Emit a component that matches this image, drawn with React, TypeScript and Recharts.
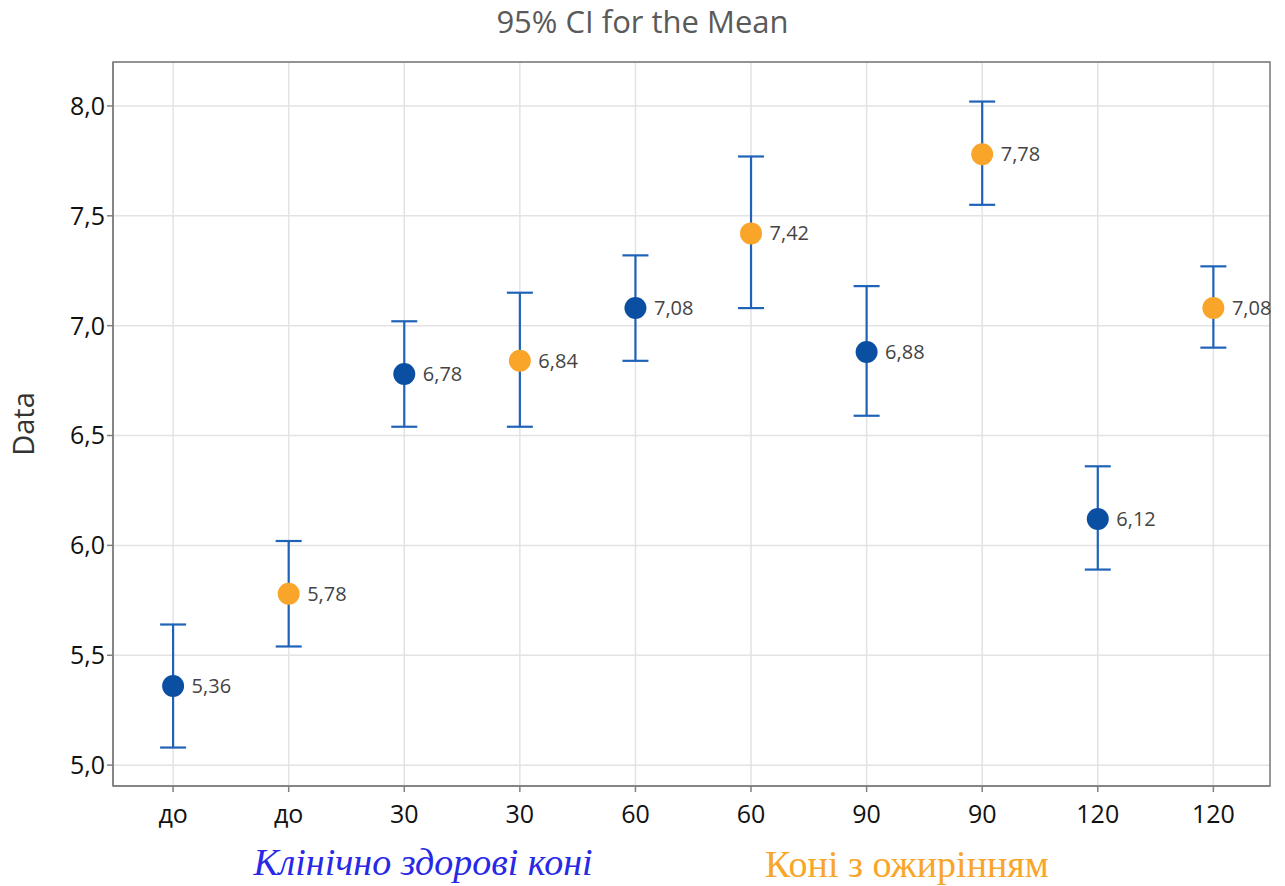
import React from "react";
import {
  ScatterChart,
  Scatter,
  XAxis,
  YAxis,
  CartesianGrid,
  ErrorBar,
  LabelList,
  ReferenceArea,
} from "recharts";

const categories = ["до", "до", "30", "30", "60", "60", "90", "90", "120", "120"];
const means = [5.36, 5.78, 6.78, 6.84, 7.08, 7.42, 6.88, 7.78, 6.12, 7.08];
const lower = [5.08, 5.54, 6.54, 6.54, 6.84, 7.08, 6.59, 7.55, 5.89, 6.9];
const upper = [5.64, 6.02, 7.02, 7.15, 7.32, 7.77, 7.18, 8.02, 6.36, 7.27];
const groups = ["healthy", "obese", "healthy", "obese", "healthy", "obese", "healthy", "obese", "healthy", "obese"];
const yTicks = [5.0, 5.5, 6.0, 6.5, 7.0, 7.5, 8.0];

const X_DOMAIN: [number, number] = [-0.52, 9.49];
const Y_DOMAIN: [number, number] = [4.905, 8.2];

const BLUE = "#0b4fa3";
const ORANGE = "#f9a52a";
const BAR = "#1f63b8";

const data = means.map((m, i) => ({
  idx: i,
  mean: m,
  err: [m - lower[i], upper[i] - m],
  group: groups[i],
}));

const fmt = (v: number) => v.toFixed(2).replace(".", ",");

const Dot = (props: any) => {
  const { cx, cy, payload } = props;
  return <circle cx={cx} cy={cy} r={11} fill={payload.group === "healthy" ? BLUE : ORANGE} />;
};

const tickFont = { fontFamily: "Open Sans", fontSize: 25, fill: "#111" };

export default function App() {
  return (
    <div style={{ position: "absolute", left: 0, top: 0, width: 1285, height: 886, background: "#fff" }}>
      <div
        style={{
          position: "absolute",
          top: 0,
          width: 1285,
          textAlign: "center",
          fontFamily: "Open Sans",
          fontSize: 31,
          color: "#5a5a5a",
        }}
      >
        95% CI for the Mean
      </div>
      <div
        style={{
          position: "absolute",
          left: 22,
          top: 424,
          transform: "translate(-50%, -50%) rotate(-90deg)",
          fontFamily: "Open Sans",
          fontSize: 29,
          color: "#333",
        }}
      >
        Data
      </div>
      <ScatterChart
        width={1285}
        height={886}
        margin={{ top: 62, right: 15, bottom: 50, left: 0 }}
      >
        <CartesianGrid stroke="#e3e3e3" strokeWidth={1.5} verticalValues={categories.map((_, i) => i)} />
        <XAxis
          type="number"
          dataKey="idx"
          domain={X_DOMAIN}
          ticks={categories.map((_, i) => i)}
          tickFormatter={(v: number) => categories[v]}
          allowDataOverflow
          height={50}
          stroke="#808080"
          strokeWidth={1.5}
          tickSize={6}
          tick={tickFont}
          tickMargin={13}
        />
        <YAxis
          type="number"
          dataKey="mean"
          domain={Y_DOMAIN}
          ticks={yTicks}
          tickFormatter={(v: number) => v.toFixed(1).replace(".", ",")}
          allowDataOverflow
          width={113}
          stroke="#808080"
          strokeWidth={1.5}
          tickSize={6}
          tick={tickFont}
        />
        <ReferenceArea
          x1={X_DOMAIN[0]}
          x2={X_DOMAIN[1]}
          y1={Y_DOMAIN[0]}
          y2={Y_DOMAIN[1]}
          fill="none"
          stroke="#777"
          strokeWidth={1.5}
          ifOverflow="visible"
        />
        <Scatter data={data} shape={<Dot />} isAnimationActive={false}>
          <ErrorBar dataKey="err" direction="y" width={13} stroke={BAR} strokeWidth={2.2} />
          <LabelList
            dataKey="mean"
            position="right"
            offset={14}
            formatter={(v: any) => fmt(Number(v))}
            style={{ fontFamily: "Open Sans", fontSize: 20, fill: "#444" }}
          />
        </Scatter>
      </ScatterChart>
      <div
        style={{
          position: "absolute",
          left: 423,
          top: 862,
          transform: "translate(-50%, -50%)",
          fontFamily: "Liberation Serif",
          fontStyle: "italic",
          fontSize: 38,
          color: "#2828e6",
          whiteSpace: "nowrap",
        }}
      >
        Клінічно здорові коні
      </div>
      <div
        style={{
          position: "absolute",
          left: 907,
          top: 864,
          transform: "translate(-50%, -50%)",
          fontFamily: "Liberation Serif",
          fontSize: 38,
          color: "#f9a52a",
          whiteSpace: "nowrap",
        }}
      >
        Коні з ожирінням
      </div>
    </div>
  );
}
